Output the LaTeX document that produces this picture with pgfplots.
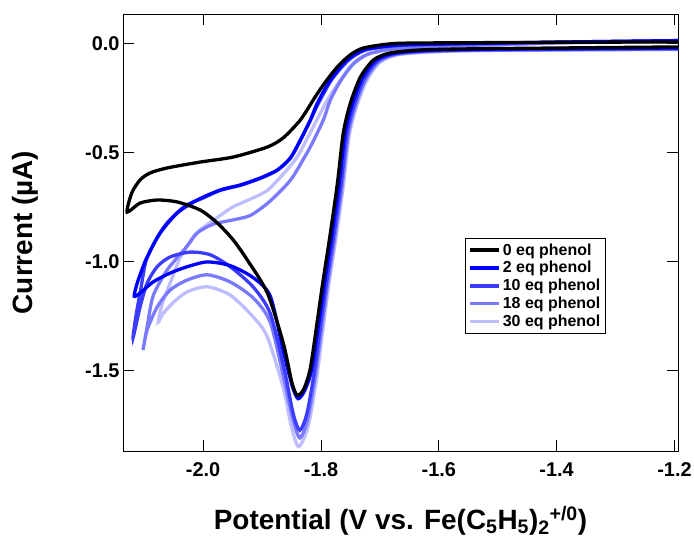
\documentclass[border=0pt]{standalone}
\usepackage{fontspec}
\setmainfont{Liberation Sans}
\usepackage{pgfplots}
\pgfplotsset{compat=1.18}
\definecolor{cA}{RGB}{0,0,255}
\definecolor{cB}{RGB}{60,60,255}
\definecolor{cC}{RGB}{122,122,255}
\definecolor{cD}{RGB}{190,190,255}
\begin{document}
\begin{tikzpicture}
\begin{axis}[
  scale only axis, width=555bp, height=437bp,
  xmin=-2.136, xmax=-1.194, ymin=-1.870, ymax=0.134,
  xtick={-2.0,-1.8,-1.6,-1.4,-1.2},
  xticklabels={-2.0,-1.8,-1.6,-1.4,-1.2},
  ytick={0,-0.5,-1.0,-1.5},
  yticklabels={0.0,-0.5,-1.0,-1.5},
  tick align=inside, major tick length=11bp,
  every tick/.style={black, line width=0.8bp},
  axis line style={line width=0.8bp},
  ticklabel style={font=\fontsize{20}{22}\selectfont\bfseries},
  xticklabel style={yshift=-8bp},
  xlabel={Potential (V vs. Fe(C\textsubscript{5}H\textsubscript{5})\textsubscript{2}\textsuperscript{+/0})},
  ylabel={Current (µA)},
  label style={font=\fontsize{28}{30}\selectfont\bfseries},
  xlabel style={at={(axis description cs:0.5,-0.1785)}, anchor=base},
  ylabel style={at={(axis description cs:-0.1622,0.5)}, anchor=base, rotate=0},
  legend image code/.code={\draw[#1,line width=3.6bp] (0bp,0bp) -- (29bp,0bp);},
  legend cell align=left,
  legend style={at={(axis description cs:0.616,0.487)}, anchor=north west,
    draw=black, line width=0.8bp, font=\fontsize{16}{18.5}\selectfont\bfseries,
    inner xsep=3bp, inner ysep=3bp, row sep=0.8bp},
]
\addlegendimage{black}
\addlegendentry{0 eq phenol}
\addlegendimage{cA}
\addlegendentry{2 eq phenol}
\addlegendimage{cB}
\addlegendentry{10 eq phenol}
\addlegendimage{cC}
\addlegendentry{18 eq phenol}
\addlegendimage{cD}
\addlegendentry{30 eq phenol}

% 30 eq
\addplot[cD, line width=3.3bp, smooth, tension=0.45, forget plot] coordinates {
(-1.194,-0.029) (-1.40,-0.032) (-1.55,-0.035) (-1.626,-0.042) (-1.673,-0.055)
(-1.701,-0.09) (-1.723,-0.175) (-1.740,-0.295) (-1.752,-0.425) (-1.762,-0.655)
(-1.774,-0.885) (-1.787,-1.115) (-1.796,-1.30) (-1.808,-1.55) (-1.822,-1.76)
(-1.838,-1.85) (-1.850,-1.76) (-1.864,-1.58) (-1.891,-1.347) (-1.915,-1.255)
(-1.954,-1.155) (-1.993,-1.117) (-2.027,-1.14) (-2.051,-1.19) (-2.068,-1.24)
(-2.076,-1.278)
(-2.070,-1.20) (-2.056,-1.10) (-2.040,-0.99) (-2.020,-0.90) (-2.005,-0.856)
(-1.971,-0.79) (-1.949,-0.75) (-1.920,-0.715) (-1.891,-0.675) (-1.864,-0.60)
(-1.840,-0.52) (-1.813,-0.383) (-1.789,-0.26) (-1.766,-0.165) (-1.745,-0.092)
(-1.725,-0.055) (-1.690,-0.032) (-1.632,-0.022) (-1.40,0.0) (-1.194,0.008)
};
% 18 eq
\addplot[cC, line width=3.3bp, smooth, tension=0.45, forget plot] coordinates {
(-1.194,-0.027) (-1.40,-0.030) (-1.55,-0.033) (-1.628,-0.040) (-1.675,-0.053)
(-1.703,-0.087) (-1.725,-0.17) (-1.742,-0.29) (-1.754,-0.42) (-1.764,-0.65)
(-1.776,-0.88) (-1.789,-1.11) (-1.798,-1.29) (-1.810,-1.53) (-1.823,-1.73)
(-1.836,-1.81) (-1.848,-1.72) (-1.862,-1.55) (-1.886,-1.28) (-1.915,-1.168)
(-1.954,-1.095) (-1.993,-1.062) (-2.027,-1.086) (-2.056,-1.132) (-2.078,-1.21)
(-2.095,-1.315) (-2.102,-1.407)
(-2.095,-1.30) (-2.085,-1.16) (-2.061,-1.04) (-2.027,-0.93) (-2.010,-0.87)
(-1.983,-0.83) (-1.949,-0.81) (-1.920,-0.79) (-1.891,-0.735) (-1.864,-0.665)
(-1.847,-0.61) (-1.818,-0.475) (-1.796,-0.352) (-1.784,-0.26) (-1.766,-0.17)
(-1.745,-0.095) (-1.720,-0.05) (-1.683,-0.028) (-1.632,-0.018) (-1.40,0.002)
(-1.194,0.010)
};
% 10 eq
\addplot[cB, line width=3.3bp, smooth, tension=0.45, forget plot] coordinates {
(-1.194,-0.025) (-1.40,-0.028) (-1.55,-0.031) (-1.630,-0.037) (-1.677,-0.05)
(-1.705,-0.083) (-1.727,-0.165) (-1.744,-0.285) (-1.756,-0.415) (-1.766,-0.645)
(-1.778,-0.875) (-1.791,-1.105) (-1.800,-1.28) (-1.812,-1.52) (-1.824,-1.70)
(-1.836,-1.775) (-1.847,-1.70) (-1.862,-1.50) (-1.886,-1.24) (-1.915,-1.118)
(-1.954,-1.025) (-1.988,-0.970) (-2.022,-0.958) (-2.056,-0.98) (-2.078,-1.025)
(-2.095,-1.10) (-2.107,-1.21) (-2.119,-1.352)
(-2.114,-1.25) (-2.106,-1.13) (-2.097,-1.0) (-2.080,-0.90) (-2.060,-0.82)
(-2.030,-0.745) (-2.000,-0.71) (-1.971,-0.675) (-1.937,-0.652) (-1.903,-0.62)
(-1.874,-0.583) (-1.852,-0.528) (-1.835,-0.446) (-1.818,-0.354) (-1.804,-0.274)
(-1.782,-0.168) (-1.754,-0.08) (-1.726,-0.033) (-1.683,-0.014) (-1.632,-0.007)
(-1.40,0.005) (-1.194,0.012)
};
% 2 eq
\addplot[cA, line width=3.3bp, smooth, tension=0.45, forget plot] coordinates {
(-1.194,-0.022) (-1.40,-0.025) (-1.55,-0.028) (-1.632,-0.034) (-1.680,-0.048)
(-1.708,-0.08) (-1.730,-0.16) (-1.747,-0.28) (-1.759,-0.41) (-1.769,-0.64)
(-1.781,-0.87) (-1.794,-1.10) (-1.803,-1.27) (-1.816,-1.50) (-1.828,-1.595)
(-1.839,-1.630) (-1.849,-1.57) (-1.864,-1.41) (-1.886,-1.16) (-1.915,-1.075)
(-1.954,-1.02) (-1.993,-1.003) (-2.027,-1.025) (-2.056,-1.054) (-2.085,-1.095)
(-2.107,-1.146) (-2.117,-1.16)
(-2.112,-1.101) (-2.102,-1.025) (-2.095,-0.98) (-2.073,-0.871) (-2.044,-0.779)
(-2.010,-0.719) (-1.971,-0.673) (-1.937,-0.650) (-1.903,-0.618) (-1.874,-0.581)
(-1.852,-0.526) (-1.835,-0.444) (-1.818,-0.352) (-1.806,-0.274) (-1.784,-0.168)
(-1.756,-0.077) (-1.728,-0.031) (-1.683,-0.012) (-1.632,-0.005) (-1.40,0.005)
(-1.194,0.012)
};
% 0 eq
\addplot[black, line width=3.3bp, smooth, tension=0.45, forget plot] coordinates {
(-1.194,-0.017) (-1.40,-0.022) (-1.55,-0.026) (-1.632,-0.031) (-1.683,-0.045)
(-1.711,-0.077) (-1.733,-0.155) (-1.750,-0.274) (-1.762,-0.41) (-1.772,-0.64)
(-1.784,-0.87) (-1.797,-1.10) (-1.806,-1.27) (-1.818,-1.49) (-1.829,-1.585)
(-1.840,-1.615) (-1.849,-1.56) (-1.864,-1.375) (-1.891,-1.145) (-1.925,-0.994)
(-1.949,-0.902) (-1.976,-0.824) (-2.005,-0.765) (-2.044,-0.728) (-2.078,-0.719)
(-2.107,-0.733) (-2.129,-0.774)
(-2.121,-0.686) (-2.107,-0.627) (-2.090,-0.595) (-2.061,-0.572) (-2.005,-0.545)
(-1.949,-0.522) (-1.891,-0.476) (-1.864,-0.434) (-1.835,-0.352) (-1.813,-0.260)
(-1.796,-0.191) (-1.772,-0.108) (-1.750,-0.053) (-1.728,-0.022) (-1.683,-0.003)
(-1.632,0.001) (-1.40,0.004) (-1.194,0.006)
};
\end{axis}
\pgfresetboundingbox
\path[use as bounding box] (-123bp,-88bp) rectangle (571bp,451bp);
\end{tikzpicture}
\end{document}
